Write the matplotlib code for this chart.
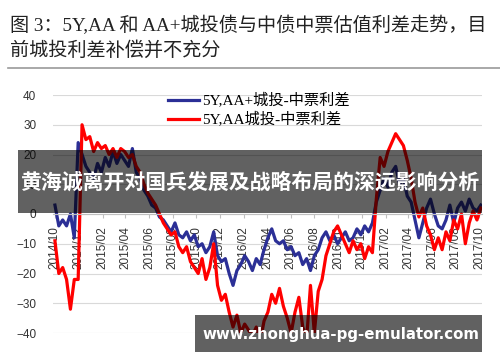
import pandas as pd
import matplotlib.pyplot as plt
import matplotlib.dates as mdates
from matplotlib.patches import Rectangle

plt.rcParams['font.family'] = ['Liberation Sans', 'Noto Sans CJK SC']

# 10-day observations, 2014/10 .. 2017/10
dates = pd.date_range("2014-10-01", periods=111, freq="10D")

aa_plus = [3, -4, -2, -4, 0, -8, 24, 20, 16, 14,
           12, 17, 14, 19, 16, 21, 17, 20, 18, 16,
           22, 14, 12, 8, 6, 3, 2, -1, -2, -4,
           -6, -3, -7, -8, -6, -9, -7, -11, -10, -13,
           -11, -6, -14, -16, -15, -20, -24, -19, -17, -14,
           -16, -19, -15, -17, -12, -8, -5, -9, -10, -9,
           -12, -11, -14, -13, -17, -15, -19, -14, -12, -8,
           -6, -9, -7, -10, -8, -6, -9, -8, -5, -7,
           -4, -6, -3, 4, 8, 12, 9, 14, 16, 10,
           12, 6, 4, -2, -8, -3, 2, 5, 0, -4,
           -5, -2, 3, -3, 2, 4, 1, 5, 2, 1, 3]

aa = [-9, -20, -18, -22, -32, -22, -22, 30, 25, 26,
      21, 24, 22, 23, 20, 22, 19, 22, 21, 19,
      20, 16, 14, 10, 7, 5, 3, 0, -3, -5,
      -7, -6, -11, -13, -11, -16, -18, -20, -15, -22,
      -18, -10, -24, -29, -27, -33, -38, -34, -40, -37,
      -39, -41, -38, -43, -36, -33, -27, -30, -25, -31,
      -35, -40, -33, -28, -38, -42, -24, -40, -26, -22,
      -14, -10, -6, -4, -7, -10, -13, -9, -12, -10,
      -15, -11, -13, 5, 19, 16, 21, 24, 27, 25,
      23, 18, 12, 4, -1, 2, -4, -7, -12, -8,
      -12, -6, -9, -2, -5, 0, -10, -3, 1, -2, 2]

labels = ["5Y,AA+城投-中票利差", "5Y,AA城投-中票利差"]
title_1 = "图 3：5Y,AA 和 AA+城投债与中债中票估值利差走势，目"
title_2 = "前城投利差补偿并不充分"
banner_1 = "黄海诚离开对国兵发展及战略布局的深远影响分析"
banner_2 = "www.zhonghua-pg-emulator.com"

W, H = 500, 362
fig = plt.figure(figsize=(5, 3.62), dpi=100)

def fx(px):
    return px / W

def fy(py):
    return 1 - py / H

ax = fig.add_axes([fx(53), fy(333), fx(482) - fx(53), fy(95) - fy(333)])
ax.plot(dates, aa_plus, color='#2b2f96', lw=2.3, label=labels[0])
ax.plot(dates, aa, color='#ff0000', lw=2.3, label=labels[1])

ax.set_ylim(-40, 40)
ax.set_yticks(range(-40, 41, 10))
ax.set_xlim(pd.Timestamp("2014-09-26"), pd.Timestamp("2017-10-08"))
ax.xaxis.set_major_locator(mdates.MonthLocator(bymonth=[2, 4, 6, 8, 10, 12]))
ax.xaxis.set_major_formatter(mdates.DateFormatter("%Y/%m"))
ax.grid(axis='y', color='#d9d9d9', lw=0.8)
ax.set_axisbelow(True)
for s in ['top', 'right', 'left']:
    ax.spines[s].set_visible(False)
ax.spines['bottom'].set_position(('data', 0))
ax.spines['bottom'].set_color('#bfbfbf')
ax.tick_params(axis='x', rotation=90, labelsize=8.5, colors='#333333',
               length=3, color='#bfbfbf', pad=6)
ax.tick_params(axis='y', labelsize=8.5, colors='#333333', length=0, pad=12)

fig.legend(loc='upper left', bbox_to_anchor=(fx(168), fy(93)), frameon=False,
           prop={'family': ['Liberation Serif', 'Noto Sans CJK SC'], 'size': 11},
           handlelength=2.0, handletextpad=0.25, labelspacing=0.3, borderpad=0,
           borderaxespad=0)

# header
fig.text(fx(10), fy(25), title_1, fontsize=13.8, color='#222222', va='center',
         family=['Liberation Serif', 'Noto Sans CJK SC'])
fig.text(fx(10), fy(51), title_2, fontsize=13.8, color='#222222', va='center',
         family=['Liberation Serif', 'Noto Sans CJK SC'])
fig.add_artist(plt.Line2D([fx(8), fx(500)], [fy(68), fy(68)], color='#9a9a9a',
                          lw=1.2, transform=fig.transFigure))

# overlay banners
fig.add_artist(Rectangle((fx(18), fy(213)), fx(482) - fx(18), fy(150) - fy(213),
                         transform=fig.transFigure, color='black', alpha=0.62, lw=0))
fig.text(fx(250), fy(182), banner_1, fontsize=15, color='white', weight='bold',
         ha='center', va='center', family=['Noto Sans CJK SC', 'DejaVu Sans'])
fig.add_artist(Rectangle((fx(195), fy(352)), fx(482) - fx(195), fy(315) - fy(352),
                         transform=fig.transFigure, color='black', alpha=0.62, lw=0))
fig.text(fx(341), fy(334), banner_2, fontsize=10.8, color='white', weight='bold',
         ha='center', va='center', family='DejaVu Sans')

fig.savefig("out.png", dpi=100)
